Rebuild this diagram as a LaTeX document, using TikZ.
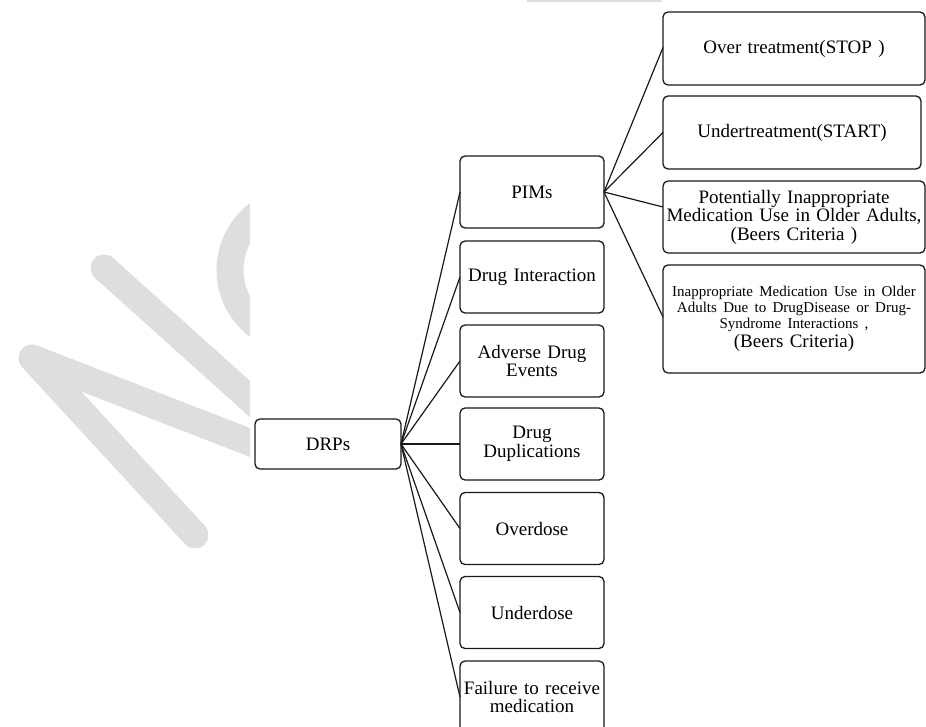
\documentclass[tikz,border=0pt]{standalone}
\usepackage{fontspec}
\setmainfont{Liberation Serif}
\definecolor{wm}{RGB}{222,222,222}
\definecolor{ink}{RGB}{25,25,25}
\begin{document}
\begin{tikzpicture}[x=1pt,y=-1pt,
  every node/.style={inner sep=0pt, outer sep=0pt},
  box/.style={draw=ink, line width=1.3pt, rounded corners=5pt, align=center,
    font=\fontsize{19}{18.5}\selectfont},
  midbox/.style={box, minimum width=144pt, minimum height=72pt, text width=142pt},
  rbox/.style={box, text width=258pt},
  link/.style={draw=ink, line width=1.2pt},
  wmark/.style={draw=wm, line width=27pt, line cap=round, line join=round}
]
\useasboundingbox (0,0) rectangle (926,727);
% watermark
\begin{scope}
  \clip (0,0) rectangle (250,727);
  \draw[wmark] (195,535) -- (32,358) -- (290,458);
  \draw[wmark] (104,268) -- (280,426);
  \draw[wmark] (300,270) ++(120:70) arc[start angle=120, end angle=235, radius=70];
\end{scope}
\fill[wm] (527,0) rectangle (662,2.5);

% root
\node[box, minimum width=146pt, minimum height=50pt, text width=140pt] (drp) at (328,444) {DRPs};

% middle column
\node[midbox] (pim) at (532,192) {PIMs};
\node[midbox] (di)  at (532,277) {Drug Interaction};
\node[midbox] (ade) at (532,361) {Adverse Drug\\Events};
\node[midbox] (dd)  at (532,444) {Drug\\Duplications};
\node[midbox] (od)  at (532,528.5) {Overdose};
\node[midbox] (ud)  at (532,612.5) {Underdose};
\node[midbox] (fr)  at (532,697) {Failure to receive\\medication};

% right column
\node[rbox, minimum width=262pt, minimum height=73pt] (r1) at (794,48.5) {Over treatment(STOP )};
\node[rbox, minimum width=258pt, minimum height=73pt] (r2) at (792,132.5) {Undertreatment(START)};
\node[rbox, minimum width=262pt, minimum height=72pt] (r3) at (794,217) {Potentially Inappropriate\\Medication Use in Older Adults,\\(Beers Criteria )};
\node[rbox, minimum width=262pt, minimum height=108pt] (r4) at (794,319)
  {\fontsize{15}{16}\selectfont Inappropriate Medication Use in Older\\Adults Due to DrugDisease or Drug-\\Syndrome Interactions ,\\\fontsize{19}{16}\selectfont (Beers Criteria)};

% connectors
\foreach \c in {pim,di,ade,dd,od,ud,fr}
  \draw[link] (drp.east) -- (\c.west);
\draw[link] (pim.east) -- ([yshift=1pt]r1.west);
\draw[link] (pim.east) -- (r2.west);
\draw[link] (pim.east) -- ([yshift=10pt]r3.west);
\draw[link] (pim.east) -- ([yshift=2pt]r4.west);
\end{tikzpicture}
\end{document}
